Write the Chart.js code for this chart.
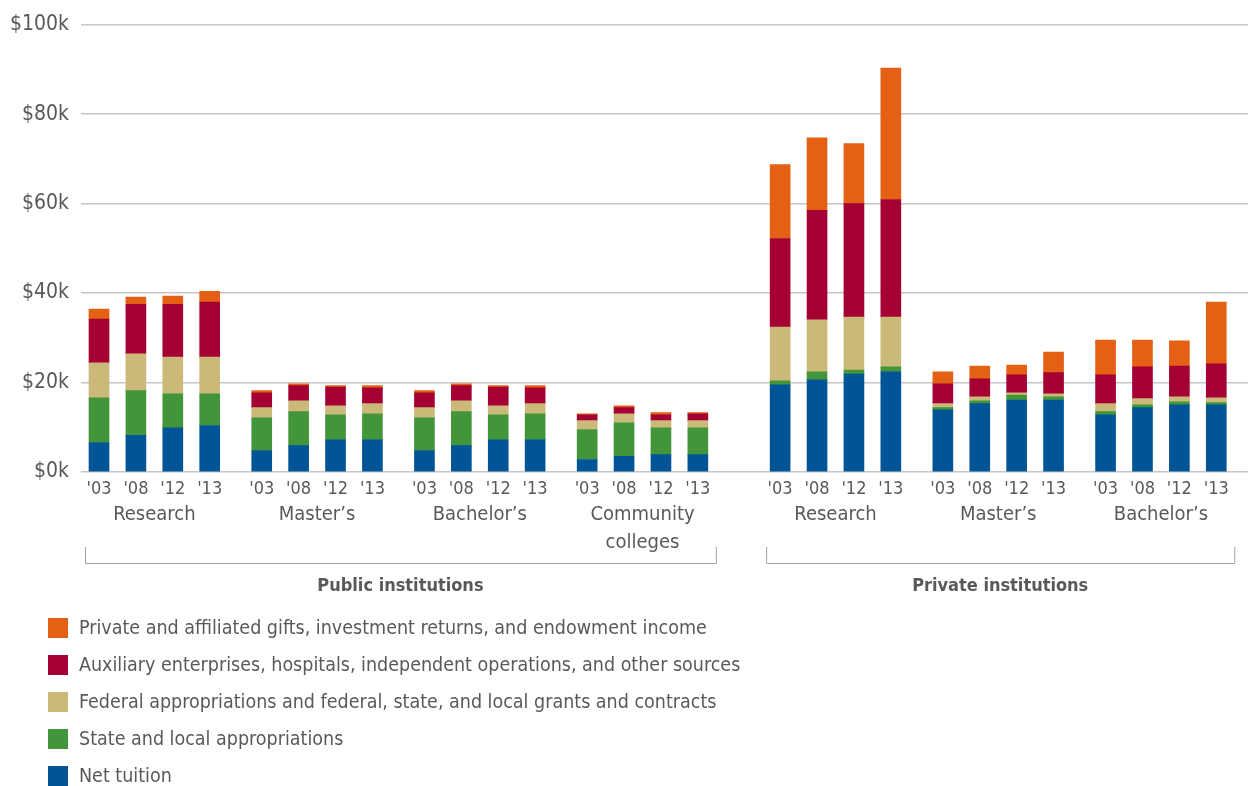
<!DOCTYPE html>
<html>
<head>
<meta charset="utf-8">
<script src="https://cdn.jsdelivr.net/npm/chart.js@4.4.0/dist/chart.umd.min.js"></script>
<style>
  body { margin: 0; background: #fff; }
  #wrap { position: relative; width: 1248px; height: 786px; }
  #legend { position: absolute; left: 48px; top: 618px; font-family: 'Liberation Sans Narrow', 'DejaVu Sans Condensed', 'Roboto Condensed', 'Liberation Sans', sans-serif; font-size: 19.5px; color: #595959; }
  .item { height: 37px; display: flex; align-items: flex-start; }
  .box { width: 20px; height: 20px; margin-right: 11px; flex: none; }
  .txt { line-height: 20px; white-space: nowrap; }
</style>
</head>
<body>
<div id="wrap">
  <canvas id="chart" width="1248" height="786"></canvas>
  <div id="legend"></div>
</div>
<script>
// Categorias
var years = ["'03", "'08", "'12", "'13"]
var groups = [['Research'], ['Master\u2019s'], ['Bachelor\u2019s'], ['Community', 'colleges'], ['Research'], ['Master\u2019s'], ['Bachelor\u2019s']]
var sectors = ['Public institutions', 'Private institutions']
var sectorGroups = [[0, 3], [4, 6]]
var yTicks = [0, 20, 40, 60, 80, 100]

// Valores em milhares de dólares (4 anos por grupo)
var netTuition = [6.6, 8.2, 9.9, 10.4, 4.8, 5.9, 7.2, 7.2, 4.8, 5.9, 7.2, 7.2, 2.8, 3.5, 3.9, 3.9,
  19.5, 20.6, 21.9, 22.4, 13.9, 15.3, 16.1, 16.1, 12.8, 14.4, 15.0, 15.0]
var stateLocal = [10.0, 10.0, 7.6, 7.1, 7.3, 7.6, 5.6, 5.8, 7.3, 7.6, 5.6, 5.8, 6.7, 7.5, 6.0, 6.0,
  0.9, 1.8, 0.9, 1.1, 0.5, 0.6, 1.1, 0.7, 0.7, 0.6, 0.7, 0.5]
var federal = [7.8, 8.2, 8.2, 8.2, 2.3, 2.4, 2.0, 2.3, 2.3, 2.4, 2.0, 2.3, 2.0, 2.0, 1.6, 1.6,
  12.0, 11.6, 11.8, 11.1, 0.9, 0.9, 0.5, 0.7, 1.8, 1.4, 1.1, 1.1]
var auxiliary = [9.8, 11.1, 11.8, 12.3, 3.3, 3.4, 4.2, 3.5, 3.3, 3.4, 4.2, 3.5, 1.3, 1.4, 1.3, 1.5,
  19.8, 24.5, 25.4, 26.3, 4.4, 4.0, 4.0, 4.7, 6.4, 7.1, 6.9, 7.6]
var gifts = [2.2, 1.6, 1.8, 2.4, 0.5, 0.4, 0.3, 0.5, 0.5, 0.4, 0.3, 0.5, 0.2, 0.4, 0.5, 0.3,
  16.5, 16.2, 13.4, 29.4, 2.7, 2.9, 2.2, 4.6, 7.8, 6.0, 5.6, 13.8]

var seriesNames = ['Net tuition', 'State and local appropriations',
  'Federal appropriations and federal, state, and local grants and contracts',
  'Auxiliary enterprises, hospitals, independent operations, and other sources',
  'Private and affiliated gifts, investment returns, and endowment income']
var seriesColors = ['#015496', '#429639', '#cbb97a', '#a50034', '#e36015']

var fontFamily = "'Liberation Sans Narrow', 'DejaVu Sans Condensed', 'Roboto Condensed', 'Liberation Sans', sans-serif"
var textColor = '#595959'

// Posição de cada barra: espaço extra entre grupos e entre público/privado
function barPos(i) {
  var g = Math.floor(i / 4)
  return g * 4.41 + (i % 4) + (g >= 4 ? 0.82 : 0)
}

function toPoints(arr) {
  return arr.map((v, i) => ({ x: barPos(i), y: v }))
}

var allSeries = [netTuition, stateLocal, federal, auxiliary, gifts]
var datasets = allSeries.map((s, k) => ({
  label: seriesNames[k],
  data: toPoints(s),
  backgroundColor: seriesColors[k],
  borderWidth: 0,
  barThickness: 20
}))

// Rótulos de grupo, colchetes e setores
var groupPlugin = {
  id: 'groups',
  afterDraw(chart) {
    var ctx = chart.ctx
    var x = chart.scales.x
    var base = chart.chartArea.bottom
    ctx.save()
    ctx.fillStyle = textColor
    ctx.textAlign = 'center'
    ctx.textBaseline = 'middle'
    ctx.font = '20px ' + fontFamily
    groups.forEach((lines, g) => {
      var cx = (x.getPixelForValue(barPos(g * 4)) + x.getPixelForValue(barPos(g * 4 + 3))) / 2
      lines.forEach((t, j) => ctx.fillText(t, cx, base + 43 + j * 28))
    })
    sectorGroups.forEach((sg, s) => {
      var left = x.getPixelForValue(barPos(sg[0] * 4)) - 14
      var right = x.getPixelForValue(barPos(sg[1] * 4 + 3)) + 18
      ctx.strokeStyle = '#a3a3a3'
      ctx.lineWidth = 1
      ctx.beginPath()
      ctx.moveTo(left + 0.5, base + 75)
      ctx.lineTo(left + 0.5, base + 91.5)
      ctx.lineTo(right + 0.5, base + 91.5)
      ctx.lineTo(right + 0.5, base + 75)
      ctx.stroke()
      ctx.font = 'bold 18px ' + fontFamily
      ctx.fillText(sectors[s], (left + right) / 2, base + 114)
    })
    ctx.restore()
  }
}

var chart = new Chart(document.getElementById('chart'), {
  type: 'bar',
  data: { datasets: datasets },
  options: {
    responsive: false,
    animation: false,
    layout: { padding: { top: 23, right: 0, left: 0, bottom: 0 } },
    plugins: { legend: { display: false }, tooltip: { enabled: false } },
    scales: {
      x: {
        type: 'linear',
        stacked: true,
        offset: false,
        min: -0.488,
        max: 31.14,
        grid: { display: false, drawTicks: false, offset: false },
        border: { display: false },
        afterBuildTicks: (scale) => {
          scale.ticks = netTuition.map((v, i) => ({ value: barPos(i) }))
        },
        afterFit: (scale) => { scale.height = 314 },
        ticks: {
          autoSkip: false,
          maxRotation: 0,
          padding: 7,
          color: textColor,
          font: { family: fontFamily, size: 18 },
          callback: (value, index) => years[index % 4]
        }
      },
      y: {
        stacked: true,
        min: 0,
        max: 100,
        afterBuildTicks: (scale) => {
          scale.ticks = yTicks.map(v => ({ value: v }))
        },
        afterFit: (scale) => { scale.width = 81 },
        grid: { color: '#c6c6c6', lineWidth: 1.5, drawTicks: false },
        border: { display: false },
        ticks: {
          padding: 12,
          color: textColor,
          font: { family: fontFamily, size: 21 },
          callback: (v) => '$' + v + 'k'
        }
      }
    }
  },
  plugins: [groupPlugin]
})

// Legenda em HTML, ordem invertida (laranja em cima)
var legendDiv = document.getElementById('legend')
chart.data.datasets.slice().reverse().forEach(ds => {
  var item = document.createElement('div')
  item.className = 'item'
  var box = document.createElement('div')
  box.className = 'box'
  box.style.background = ds.backgroundColor
  var txt = document.createElement('div')
  txt.className = 'txt'
  txt.textContent = ds.label
  item.appendChild(box)
  item.appendChild(txt)
  legendDiv.appendChild(item)
})
</script>
</body>
</html>
